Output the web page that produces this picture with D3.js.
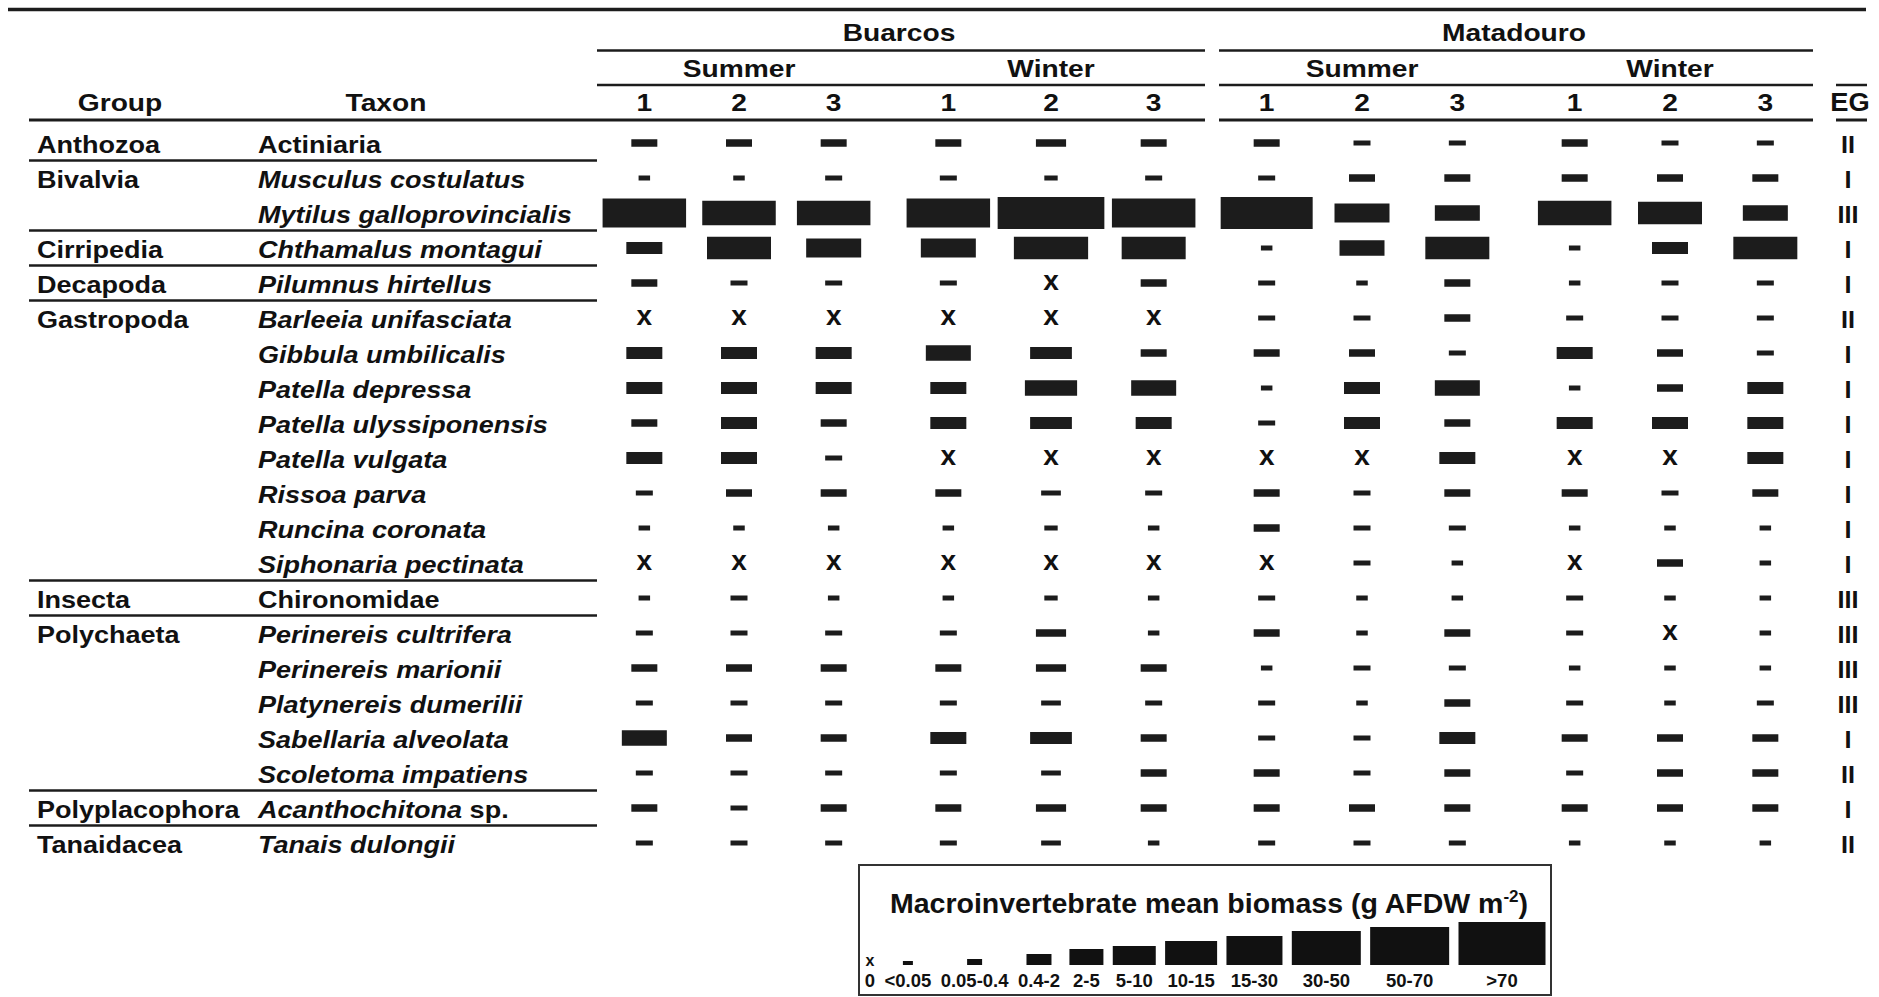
<!DOCTYPE html>
<html lang="en">
<head>
  <meta charset="UTF-8">
  <title>Macroinvertebrate mean biomass</title>
  <script src="https://d3js.org/d3.v7.min.js"></script>
  <style>
    body { margin: 0; background: #fff; }
    svg { display: block; font-family: "Liberation Sans", Arial, sans-serif; font-weight: bold; }
    svg text { fill: #111; }
  </style>
</head>
<body>
  <svg id="chart" width="1879" height="997"></svg>

  <script>
    // ---- data ----
    const taxa = ["Actiniaria", "Musculus costulatus", "Mytilus galloprovincialis", "Chthamalus montagui",
      "Pilumnus hirtellus", "Barleeia unifasciata", "Gibbula umbilicalis", "Patella depressa",
      "Patella ulyssiponensis", "Patella vulgata", "Rissoa parva", "Runcina coronata",
      "Siphonaria pectinata", "Chironomidae", "Perinereis cultrifera", "Perinereis marionii",
      "Platynereis dumerilii", "Sabellaria alveolata", "Scoletoma impatiens", "Acanthochitona sp.",
      "Tanais dulongii"];
    const taxonItalic = [false, true, true, true, true, true, true, true, true, true, true, true,
      true, false, true, true, true, true, true, true, true];
    const groups = ["Anthozoa", "Bivalvia", "Bivalvia", "Cirripedia", "Decapoda", "Gastropoda",
      "Gastropoda", "Gastropoda", "Gastropoda", "Gastropoda", "Gastropoda", "Gastropoda", "Gastropoda",
      "Insecta", "Polychaeta", "Polychaeta", "Polychaeta", "Polychaeta", "Polychaeta",
      "Polyplacophora", "Tanaidacea"];
    const ecoGroups = ["II", "I", "III", "I", "I", "II", "I", "I", "I", "I", "I", "I", "I",
      "III", "III", "III", "III", "I", "II", "I", "II"];

    const sites = ["Buarcos", "Matadouro"];
    const seasons = ["Summer", "Winter"];
    const replicates = ["1", "2", "3"];

    // biomass class per taxon and replicate: 0 = absent (x), 1 = <0.05 ... 10 = >70
    const buarcosSummer = [[3,3,3],[1,1,2],[9,8,8],[4,7,6],[3,2,2],[0,0,0],[4,4,4],[4,4,4],[3,4,3],
      [4,4,2],[2,3,3],[1,1,1],[0,0,0],[1,2,1],[2,2,2],[3,3,3],[2,2,2],[5,3,3],[2,2,2],[3,2,3],[2,2,2]];
    const buarcosWinter = [[3,3,3],[2,1,2],[9,10,9],[6,7,7],[2,0,3],[0,0,0],[5,4,3],[4,5,5],[4,4,4],
      [0,0,0],[3,2,2],[1,1,1],[0,0,0],[1,1,1],[2,3,1],[3,3,3],[2,2,2],[4,4,3],[2,2,3],[3,3,3],[2,2,1]];
    const matadouroSummer = [[3,2,2],[2,3,3],[10,6,5],[1,5,7],[2,1,3],[2,2,3],[3,3,2],[1,4,5],[2,4,3],
      [0,0,4],[3,2,3],[3,2,2],[0,2,1],[2,1,1],[3,1,3],[1,2,2],[2,1,3],[2,2,4],[3,2,3],[3,3,3],[2,2,2]];
    const matadouroWinter = [[3,2,2],[3,3,3],[8,7,5],[1,4,7],[1,2,2],[2,2,2],[4,3,2],[1,3,4],[4,4,4],
      [0,0,4],[3,2,3],[1,1,1],[0,3,1],[2,1,1],[2,0,1],[1,1,1],[2,1,2],[3,3,3],[2,3,3],[3,3,3],[1,1,1]];

    const classLabels = ["0", "<0.05", "0.05-0.4", "0.4-2", "2-5", "5-10", "10-15", "15-30", "30-50", "50-70", ">70"];

    // ---- layout ----
    const svg = d3.select("#chart");
    const ink = "#1c1c1c";
    const classes = d3.range(1, 11);
    const markW = d3.scaleOrdinal().domain(classes).range([11.5, 17, 26, 36, 45, 55, 64, 73.5, 83.5, 92]);
    const markH = d3.scaleOrdinal().domain(classes).range([5, 5, 7.5, 12, 15.5, 19, 22.5, 24.5, 29, 32]);
    const legendW = d3.scaleOrdinal().domain(classes).range([10, 15, 25, 34, 43, 52, 56, 69, 79, 87]);
    const legendH = d3.scaleOrdinal().domain(classes).range([4, 6, 11, 16, 19, 24, 29, 34, 38, 43]);

    const rowY = d3.scalePoint().domain(d3.range(taxa.length)).range([143, 843]);

    const blocks = [
      { site: "Buarcos", season: "Summer", values: buarcosSummer, range: [597, 881] },
      { site: "Buarcos", season: "Winter", values: buarcosWinter, range: [897, 1205] },
      { site: "Matadouro", season: "Summer", values: matadouroSummer, range: [1219, 1505] },
      { site: "Matadouro", season: "Winter", values: matadouroWinter, range: [1527, 1813] }
    ];
    blocks.forEach(b => {
      b.x = d3.scalePoint().domain(replicates).range(b.range).padding(0.5);
    });
    // the second Buarcos winter column is drawn wider in the original
    const wideCol = { block: 1, rep: "2", factor: 1.16 };

    const siteExtent = s => {
      const bs = blocks.filter(b => b.site === s);
      return [d3.min(bs, b => b.range[0]), d3.max(bs, b => b.range[1])];
    };
    const egX = 1848, egLine = [1836, 1867];
    const textStretch = 1.15;

    function hline(x1, x2, y, w) {
      svg.append("line").attr("x1", x1).attr("x2", x2).attr("y1", y).attr("y2", y)
        .attr("stroke", ink).attr("stroke-width", w);
    }
    function label(txt, x, y, size, anchor, stretch) {
      const s = stretch || textStretch;
      return svg.append("text")
        .attr("transform", "translate(" + x + "," + y + ") scale(" + s + ",1)")
        .attr("text-anchor", anchor || "middle")
        .style("font-size", size + "px")
        .text(txt);
    }

    // ---- header ----
    hline(8, 1866, 9.5, 3.5);
    sites.forEach(s => {
      const [a, b] = siteExtent(s);
      label(s, (a + b) / 2 - 2, 41, 24.5);
      hline(a, b, 50.5, 2.5);
      hline(a, b, 85, 2.5);
    });
    hline(egLine[0], egLine[1], 85, 2.5);
    blocks.forEach(b => {
      label(b.season, b.x("2"), 77, 24.5);
      replicates.forEach(r => label(r, b.x(r), 111, 24.5));
    });
    label("Group", 120, 111, 24.5);
    label("Taxon", 386, 111, 24.5);
    label("EG", egX + 2, 111, 26, "middle", 1.05);
    hline(29, siteExtent("Buarcos")[1], 120, 3);
    hline(siteExtent("Matadouro")[0], siteExtent("Matadouro")[1], 120, 3);
    hline(egLine[0], egLine[1], 120, 3);

    // ---- rows ----
    taxa.forEach((t, i) => {
      const y = rowY(i);
      if (i === 0 || groups[i] !== groups[i - 1]) label(groups[i], 37, y + 9.5, 23.5, "start");
      if (i < taxa.length - 1 && groups[i] !== groups[i + 1]) hline(29, 597, y + 17.5, 2.5);

      const tx = label("", 258, y + 9.5, 23.5, "start");
      const sp = t.endsWith(" sp.");
      tx.append("tspan").style("font-style", taxonItalic[i] ? "italic" : "normal")
        .text(sp ? t.slice(0, -4) : t);
      if (sp) tx.append("tspan").text(" sp.");

      label(ecoGroups[i], egX, y + 9.5, 24, "middle", 1.05);
    });

    // ---- cells ----
    blocks.forEach((b, bi) => {
      const cells = [];
      b.values.forEach((vals, i) => vals.forEach((c, j) => cells.push({ row: i, rep: replicates[j], c })));
      const g = svg.append("g");
      const stretch = d => (bi === wideCol.block && d.rep === wideCol.rep) ? wideCol.factor : 1;

      g.selectAll("rect").data(cells.filter(d => d.c > 0)).join("rect")
        .attr("x", d => b.x(d.rep) - markW(d.c) * stretch(d) / 2)
        .attr("y", d => rowY(d.row) - markH(d.c) / 2)
        .attr("width", d => markW(d.c) * stretch(d))
        .attr("height", d => markH(d.c))
        .attr("fill", ink);

      g.selectAll("text").data(cells.filter(d => d.c === 0)).join("text")
        .attr("x", d => b.x(d.rep))
        .attr("y", d => rowY(d.row) + 7)
        .attr("text-anchor", "middle")
        .style("font-size", "28px")
        .text("x");
    });

    // ---- legend ----
    const box = { x: 859, y: 865, w: 692, h: 130 };
    svg.append("rect").attr("x", box.x).attr("y", box.y).attr("width", box.w).attr("height", box.h)
      .attr("fill", "none").attr("stroke", "#333").attr("stroke-width", 2);

    const title = svg.append("text")
      .attr("x", box.x + box.w / 2 + 4).attr("y", 913)
      .attr("text-anchor", "middle")
      .style("font-size", "28.5px");
    title.append("tspan").text("Macroinvertebrate mean biomass (g AFDW m");
    title.append("tspan").attr("dy", -11).style("font-size", "17px").text("-2");
    title.append("tspan").attr("dy", 11).text(")");

    const items = classLabels.map((l, c) => ({ c, label: l }));
    const lg = svg.append("g");
    const labs = lg.selectAll("text.lab").data(items).join("text")
      .attr("class", "lab")
      .attr("y", 987)
      .attr("text-anchor", "middle")
      .style("font-size", "18.5px")
      .text(d => d.label);
    labs.each(function (d) {
      d.slot = Math.max(this.getComputedTextLength(), d.c ? legendW(d.c) : 0);
    });
    const firstX = box.x + 11, lastX = box.x + box.w - 49;
    let used = 0;
    for (let i = 1; i < items.length; i++) used += (items[i - 1].slot + items[i].slot) / 2;
    const gap = (lastX - firstX - used) / (items.length - 1);
    items.forEach((d, i) => {
      d.cx = i === 0 ? firstX : items[i - 1].cx + (items[i - 1].slot + d.slot) / 2 + gap;
    });
    labs.attr("x", d => d.cx);

    const markBase = 965;
    lg.selectAll("rect").data(items.filter(d => d.c > 0)).join("rect")
      .attr("x", d => d.cx - legendW(d.c) / 2)
      .attr("y", d => markBase - legendH(d.c))
      .attr("width", d => legendW(d.c))
      .attr("height", d => legendH(d.c))
      .attr("fill", "#111");
    lg.selectAll("text.zero").data(items.filter(d => d.c === 0)).join("text")
      .attr("class", "zero")
      .attr("x", d => d.cx)
      .attr("y", 966)
      .attr("text-anchor", "middle")
      .style("font-size", "16px")
      .text("x");
  </script>
</body>
</html>
